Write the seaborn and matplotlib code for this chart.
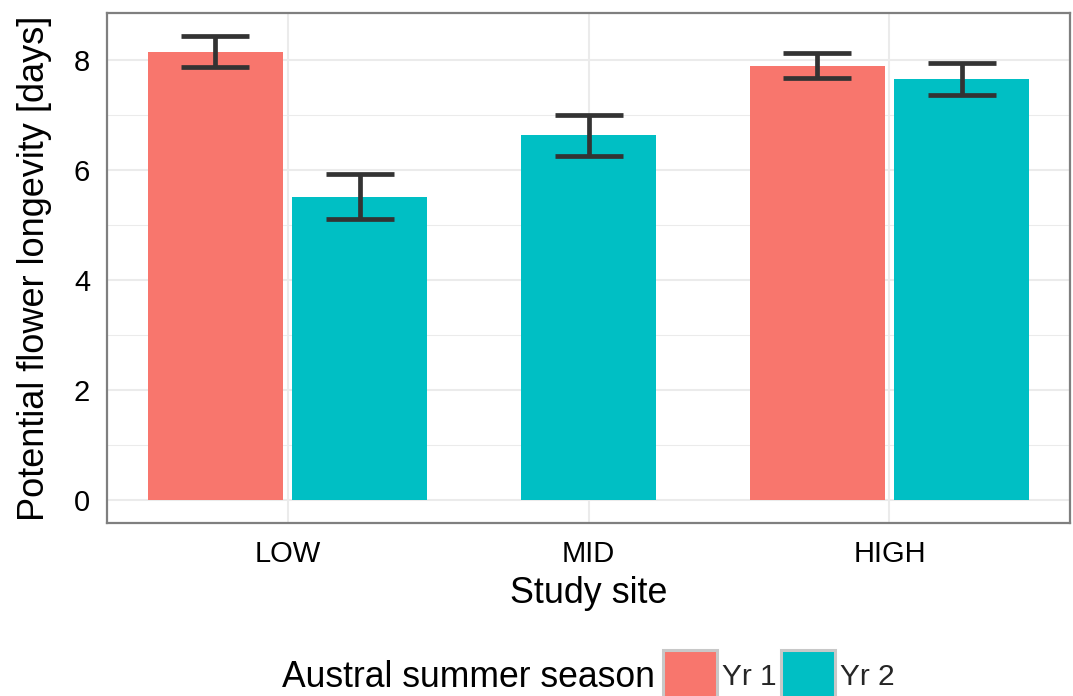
import matplotlib
matplotlib.use("Agg")
import matplotlib.pyplot as plt
import numpy as np
import pandas as pd
import seaborn as sns
from matplotlib.patches import Patch

# Mean potential flower longevity per site and season, with interval bounds
sites = ["LOW", "MID", "HIGH"]
seasons = ["Yr 1", "Yr 2"]
bar_site = ["LOW", "LOW", "MID", "HIGH", "HIGH"]
bar_season = ["Yr 1", "Yr 2", "Yr 2", "Yr 1", "Yr 2"]
longevity = [8.15, 5.51, 6.64, 7.90, 7.66]
ci_low = [7.88, 5.12, 6.26, 7.67, 7.37]
ci_high = [8.44, 5.93, 7.01, 8.13, 7.95]
y_ticks = [0, 2, 4, 6, 8]

palette = {"Yr 1": "#F8766D", "Yr 2": "#00BFC4"}

df = pd.DataFrame({
    "site": bar_site,
    "season": bar_season,
    "longevity": longevity,
    "low": ci_low,
    "high": ci_high,
})

# Dodge the bars inside each site; a site with a single season keeps its bar centred
slot = 0.48
bar_width = 0.45
site_index = df["site"].map({s: i for i, s in enumerate(sites)})
rank = df.groupby("site").cumcount()
count = df.groupby("site")["site"].transform("size")
df["pos"] = site_index + (rank - (count - 1) / 2) * slot

sns.set_theme(style="whitegrid")
plt.rcParams["font.family"] = ["Liberation Sans", "DejaVu Sans"]

fig = plt.figure(figsize=(10.73, 6.96), dpi=100)
ax = fig.add_axes([107 / 1073, 1 - 523 / 696, 963 / 1073, 510 / 696])

sns.barplot(
    data=df, x="pos", y="longevity", hue="season", hue_order=seasons,
    palette=palette, native_scale=True, dodge=False,
    width=bar_width / slot, errorbar=None, linewidth=0, legend=False,
    saturation=1, ax=ax,
)

ax.errorbar(
    df["pos"], df["longevity"],
    yerr=[df["longevity"] - df["low"], df["high"] - df["longevity"]],
    fmt="none", ecolor="#333333", elinewidth=3.4, capsize=24.4, capthick=3.4,
    zorder=5,
)

ax.set_xlim(-0.6, len(sites) - 0.4)
ax.set_xticks(range(len(sites)))
ax.set_xticklabels(sites)
ax.set_ylim(-0.42, 8.86)
ax.set_yticks(y_ticks)
ax.set_yticks([1, 3, 5, 7], minor=True)

ax.set_axisbelow(True)
ax.grid(True, which="major", color="#EBEBEB", linewidth=1.5)
ax.grid(True, which="minor", axis="y", color="#EBEBEB", linewidth=0.75)
ax.xaxis.grid(True, which="major", color="#EBEBEB", linewidth=1.5)

for sp in ax.spines.values():
    sp.set_visible(True)
    sp.set_color("#7F7F7F")
    sp.set_linewidth(1.6)

ax.tick_params(axis="both", which="major", length=7.2, width=1.5,
               color="#333333", labelsize=21, labelcolor="black", pad=5)
ax.tick_params(axis="both", which="minor", length=0)

ax.set_xlabel("Study site", fontsize=25.8, color="black", labelpad=6)
ax.set_ylabel("Potential flower longevity [days]", fontsize=26,
              color="black", labelpad=16)

handles = [Patch(facecolor=palette[s], edgecolor="#C8C8C8", linewidth=2.2,
                 label=s) for s in seasons]
fig.legend(handles=handles, loc="lower left", bbox_to_anchor=(663 / 1073, -0.0085),
           ncol=2, frameon=False, fontsize=21.5, handlelength=1.8,
           handleheight=2.3, handletextpad=0.17, columnspacing=0.15,
           borderpad=0, borderaxespad=0)
fig.text(655 / 1073, 1 - 687 / 696, "Austral summer season", ha="right",
         va="baseline", fontsize=25.6, color="black")

fig.savefig("out.png", dpi=100)
